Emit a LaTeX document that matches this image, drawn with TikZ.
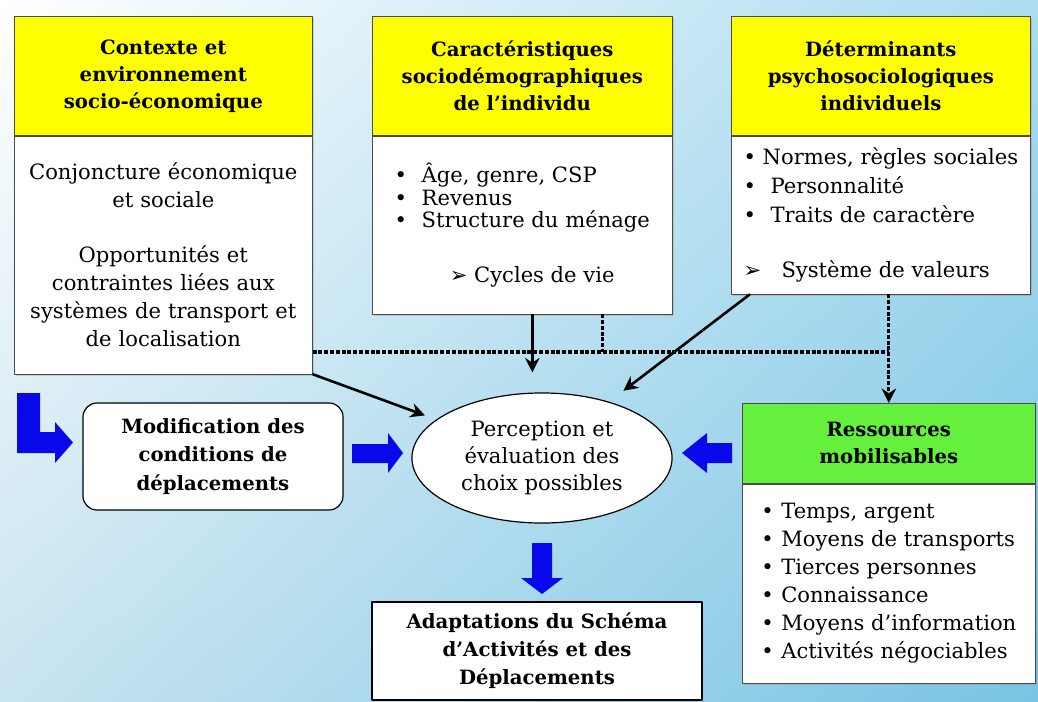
\documentclass[tikz,border=0pt]{standalone}
\usepackage{fontspec}
\setmainfont{DejaVu Serif}
\newfontfamily\symfont{DejaVu Sans}
\usetikzlibrary{positioning,shapes.geometric,shadows,shadings,arrows.meta}
\definecolor{jaune}{RGB}{255,255,0}
\definecolor{vert}{RGB}{100,240,60}
\definecolor{bleu}{RGB}{8,8,235}
\definecolor{cielbas}{RGB}{120,196,228}
\definecolor{cielclair}{RGB}{200,228,240}
\definecolor{cielhaut}{RGB}{172,220,240}
\newcommand{\puce}[1]{\makebox[#1][l]{•}}
\newcommand{\fleche}{{\symfont ➢}}
\begin{document}
\begin{tikzpicture}[x=0.025cm,y=-0.025cm,>={Stealth[length=0.36cm,width=0.36cm]},line join=round,
	titre/.style={draw=black!70,fill=jaune,inner sep=0pt,align=center,anchor=north west,minimum height=2.975cm,font=\bfseries\fontsize{14}{19.2}\selectfont,drop shadow={opacity=0.3,shadow xshift=0.05cm,shadow yshift=-0.05cm}},
	corps/.style={draw=black!70,fill=white,inner sep=0pt,font=\fontsize{15}{19.9}\selectfont,drop shadow={opacity=0.3,shadow xshift=0.05cm,shadow yshift=-0.05cm}},
	trait/.style={->,line width=0.065cm,shorten >=#1},
	pointille/.style={line width=0.08cm,dash pattern=on 0.1cm off 0.045cm},
	bleuarr/.style={fill=bleu}]
	\shade[upper left=white,upper right=cielhaut,lower left=cielclair,lower right=cielbas] (0,0) rectangle (1038,702);
	\useasboundingbox (0,0) rectangle (1038,702);
	\node[titre,minimum width=7.45cm,text width=7.45cm] (ctx) at (14,16) {Contexte et\\environnement\\socio-économique};
	\node[corps,below=0pt of ctx,minimum height=5.95cm,text width=7.45cm,align=center] (ctxb) {Conjoncture économique\\et sociale\\[0.675cm]Opportunités et\\contraintes liées aux\\systèmes de transport et\\de localisation};
	\node[titre,minimum width=7.5cm,text width=7.5cm] (car) at (372,16) {Caractéristiques\\sociodémographiques\\de l’individu};
	\node[corps,below=0pt of car,minimum height=4.45cm,minimum width=7.5cm,align=left,font=\fontsize{15}{16}\selectfont] (carb) {\puce{0.675cm}Âge, genre, CSP\\\puce{0.675cm}Revenus\\\puce{0.675cm}Structure du ménage\\[0.8cm]\hspace*{1.375cm}\fleche\ Cycles de vie};
	\node[titre,minimum width=7.475cm,text width=7.475cm] (det) at (731,16) {Déterminants\\psychosociologiques\\individuels};
	\node[corps,below=0pt of det,minimum height=3.95cm,minimum width=7.475cm,align=left,font=\fontsize{15}{20.6}\selectfont] (detb) {•\ Normes, règles sociales\\\puce{0.675cm}Personnalité\\\puce{0.675cm}Traits de caractère\\[0.65cm]\makebox[0.95cm][l]{\fleche}Système de valeurs};
	\node[titre,fill=vert,minimum width=7.325cm,text width=7.325cm,minimum height=2cm] (res) at (742,403) {Ressources\\mobilisables};
	\node[corps,below=0pt of res,minimum height=4.975cm,minimum width=7.325cm,align=left] (resb) {\puce{0.5cm}Temps, argent\\\puce{0.5cm}Moyens de transports\\\puce{0.5cm}Tierces personnes\\\puce{0.5cm}Connaissance\\\puce{0.5cm}Moyens d’information\\\puce{0.5cm}Activités négociables};
	\node[draw,fill=white,rounded corners=0.35cm,line width=0.03cm,minimum width=6.5cm,minimum height=2.675cm,inner sep=0pt,align=center,font=\bfseries\fontsize{14}{20}\selectfont] (mod) at (213,456.5) {Modification des\\conditions de\\déplacements};
	\node[ellipse,draw,fill=white,line width=0.03cm,minimum width=6.5cm,minimum height=3.25cm,inner sep=0pt,align=center,font=\fontsize{15}{19.5}\selectfont] (perc) at (542,458) {Perception et\\évaluation des\\choix possibles};
	\node[draw,fill=white,line width=0.07cm,minimum width=8.25cm,minimum height=2.45cm,inner sep=0pt,align=center,font=\bfseries\fontsize{14}{20}\selectfont] (adapt) at (537,651) {Adaptations du Schéma\\d’Activités et des\\Déplacements};
	\coordinate (j) at (res.north |- 0,352);
	\draw[pointille] (ctxb.east |- j) -- (j);
	\draw[pointille] ([xshift=2cm]carb.south) -- ([xshift=2cm]carb.south |- j);
	\draw[pointille,->] (detb.south -| res.north) -- (res.north);
	\draw[trait=0.3cm] (ctxb.south east) -- (perc.160);
	\draw[trait=0.5cm] ([xshift=0.25cm]carb.south) -- ([xshift=0.25cm]carb.south |- perc.north);
	\draw[trait=0.45cm] ([xshift=0.475cm]detb.south west) -- (perc.40);
	\fill[bleuarr] (17,393) -- (40,393) -- (40,432) -- (55,432) -- (55,422) -- (73,442.5) -- (55,463) -- (55,453) -- (17,453) -- cycle;
	\fill[bleuarr] (352,444) -- (388,444) -- (388,433) -- (403,453) -- (388,473) -- (388,463) -- (352,463) -- cycle;
	\fill[bleuarr] (732,443) -- (707,443) -- (707,433) -- (682,453) -- (707,473) -- (707,463) -- (732,463) -- cycle;
	\fill[bleuarr] (532,543) -- (552,543) -- (552,578) -- (563,578) -- (542,594) -- (521,578) -- (532,578) -- cycle;
\end{tikzpicture}
\end{document}
